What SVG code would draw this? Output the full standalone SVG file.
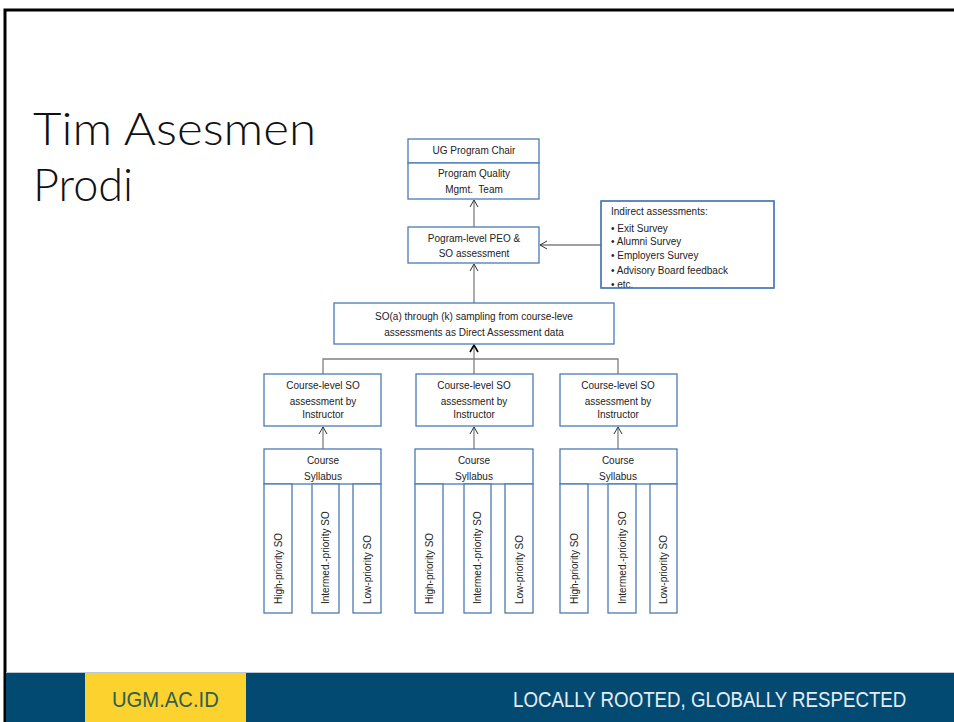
<svg xmlns="http://www.w3.org/2000/svg" width="954" height="722" viewBox="0 0 954 722">
<style>
.box{fill:#fff;stroke:#4a7ab5;stroke-width:1.3}
.t{font-family:"Liberation Sans",Arial,sans-serif;font-size:10px;fill:#222;text-anchor:middle}
.tl{font-family:"Liberation Sans",Arial,sans-serif;font-size:10px;fill:#222}
.c{stroke:#808080;stroke-width:1.3;fill:none}
.title{font-family:Lato,"Open Sans",sans-serif;font-size:45px;font-weight:300;fill:#111}
.foot{font-family:"Liberation Sans",Arial,sans-serif;font-size:22px}
</style>
<defs>
<marker id="ah" markerWidth="10" markerHeight="10" refX="8" refY="5" orient="auto" markerUnits="userSpaceOnUse">
<path d="M1,1 L8,5 L1,9" fill="none" stroke="#333" stroke-width="1"/>
</marker>
<marker id="ahb" markerWidth="10" markerHeight="10" refX="8" refY="5" orient="auto" markerUnits="userSpaceOnUse">
<path d="M1,1 L8,5 L1,9" fill="none" stroke="#000" stroke-width="1.6"/>
</marker>
<clipPath id="indclip"><rect x="601" y="201" width="173" height="87"/></clipPath>
</defs>
<rect width="954" height="722" fill="#fff"/>
<path d="M5,722 V10 H954" fill="none" stroke="#000" stroke-width="3"/>
<g id="title">
<text class="title" x="33" y="145" textLength="283" lengthAdjust="spacingAndGlyphs">Tim Asesmen</text>
<text class="title" x="33" y="201">Prodi</text>
</g>

<g id="connectors">
<line class="c" x1="474" y1="227" x2="474" y2="200" marker-end="url(#ah)"/>
<line class="c" x1="601" y1="245" x2="540" y2="245" marker-end="url(#ah)"/>
<line class="c" x1="474" y1="303" x2="474" y2="264" marker-end="url(#ah)"/>
<polyline class="c" points="323,374 323,359 618,359 618,374"/>
<line class="c" x1="474" y1="374" x2="474" y2="345" marker-end="url(#ahb)"/>
<line class="c" x1="323" y1="449" x2="323" y2="427" marker-end="url(#ah)"/>
<line class="c" x1="474" y1="449" x2="474" y2="427" marker-end="url(#ah)"/>
<line class="c" x1="618" y1="449" x2="618" y2="427" marker-end="url(#ah)"/>
</g>

<g id="chair">
<rect class="box" x="408" y="139" width="131" height="24"/>
<text class="t" x="474" y="154">UG Program Chair</text>
</g>
<g id="pqmt">
<rect class="box" x="408" y="163" width="131" height="36"/>
<text class="t" x="474" y="177">Program Quality</text>
<text class="t" x="474" y="193" xml:space="preserve">Mgmt.  Team</text>
</g>
<g id="peo">
<rect class="box" x="408" y="227" width="131" height="36"/>
<text class="t" x="474" y="242">Pogram-level PEO &amp;</text>
<text class="t" x="474" y="257">SO assessment</text>
</g>
<g id="indirect">
<rect class="box" x="601" y="201" width="173" height="87"/>
<g clip-path="url(#indclip)">
<text class="tl" x="611" y="215">Indirect assessments:</text>
<text class="tl" x="611" y="232">•  Exit Survey</text>
<text class="tl" x="611" y="245">•  Alumni Survey</text>
<text class="tl" x="611" y="259">•  Employers Survey</text>
<text class="tl" x="611" y="274">•  Advisory Board feedback</text>
<text class="tl" x="611" y="288">•  etc.</text>
</g>
<rect x="601" y="201" width="173" height="87" fill="none" stroke="#4a7ab5" stroke-width="1.3"/>
</g>
<g id="sampling">
<rect class="box" x="334" y="303" width="280" height="41"/>
<text class="t" x="474" y="320">SO(a) through (k) sampling from course-leve</text>
<text class="t" x="474" y="336">assessments as Direct Assessment data</text>
</g>

<g id="course1">
<rect class="box" x="264" y="374" width="117" height="52"/>
<text class="t" x="323" y="389">Course-level SO</text>
<text class="t" x="323" y="405">assessment by</text>
<text class="t" x="323" y="418">Instructor</text>
</g>
<g id="course2">
<rect class="box" x="416" y="374" width="117" height="52"/>
<text class="t" x="474" y="389">Course-level SO</text>
<text class="t" x="474" y="405">assessment by</text>
<text class="t" x="474" y="418">Instructor</text>
</g>
<g id="course3">
<rect class="box" x="560" y="374" width="117" height="52"/>
<text class="t" x="618" y="389">Course-level SO</text>
<text class="t" x="618" y="405">assessment by</text>
<text class="t" x="618" y="418">Instructor</text>
</g>

<g id="syllabus1">
<rect class="box" x="264" y="449" width="117" height="35"/>
<text class="t" x="323" y="464">Course</text>
<text class="t" x="323" y="480">Syllabus</text>
<rect class="box" x="264" y="484" width="28" height="129"/>
<rect class="box" x="312" y="484" width="27" height="129"/>
<rect class="box" x="353" y="484" width="28" height="129"/>
<text class="tl" transform="translate(282,604) rotate(-90)">High-priority SO</text>
<text class="tl" transform="translate(329,604) rotate(-90)">Intermed.-priority SO</text>
<text class="tl" transform="translate(371,604) rotate(-90)">Low-priority SO</text>
</g>
<g id="syllabus2">
<rect class="box" x="415" y="449" width="118" height="35"/>
<text class="t" x="474" y="464">Course</text>
<text class="t" x="474" y="480">Syllabus</text>
<rect class="box" x="415" y="484" width="28" height="129"/>
<rect class="box" x="464" y="484" width="27" height="129"/>
<rect class="box" x="505" y="484" width="28" height="129"/>
<text class="tl" transform="translate(433,604) rotate(-90)">High-priority SO</text>
<text class="tl" transform="translate(481,604) rotate(-90)">Intermed.-priority SO</text>
<text class="tl" transform="translate(523,604) rotate(-90)">Low-priority SO</text>
</g>
<g id="syllabus3">
<rect class="box" x="560" y="449" width="117" height="35"/>
<text class="t" x="618" y="464">Course</text>
<text class="t" x="618" y="480">Syllabus</text>
<rect class="box" x="560" y="484" width="28" height="129"/>
<rect class="box" x="608" y="484" width="28" height="129"/>
<rect class="box" x="650" y="484" width="27" height="129"/>
<text class="tl" transform="translate(578,604) rotate(-90)">High-priority SO</text>
<text class="tl" transform="translate(626,604) rotate(-90)">Intermed.-priority SO</text>
<text class="tl" transform="translate(667,604) rotate(-90)">Low-priority SO</text>
</g>

<g id="footer">
<rect x="6" y="672" width="948" height="50" fill="#024a72"/>
<line x1="6" y1="672.5" x2="954" y2="672.5" stroke="#b8c8d6" stroke-width="1"/>
<rect x="85" y="673" width="161" height="49" fill="#fbd22e"/>
<text class="foot" fill="#2f5f4f" transform="translate(112,707) scale(0.92,1)">UGM.AC.ID</text>
<text class="foot" fill="#e6edf2" transform="translate(513,707) scale(0.85,1)">LOCALLY ROOTED, GLOBALLY RESPECTED</text>
</g>
</svg>
